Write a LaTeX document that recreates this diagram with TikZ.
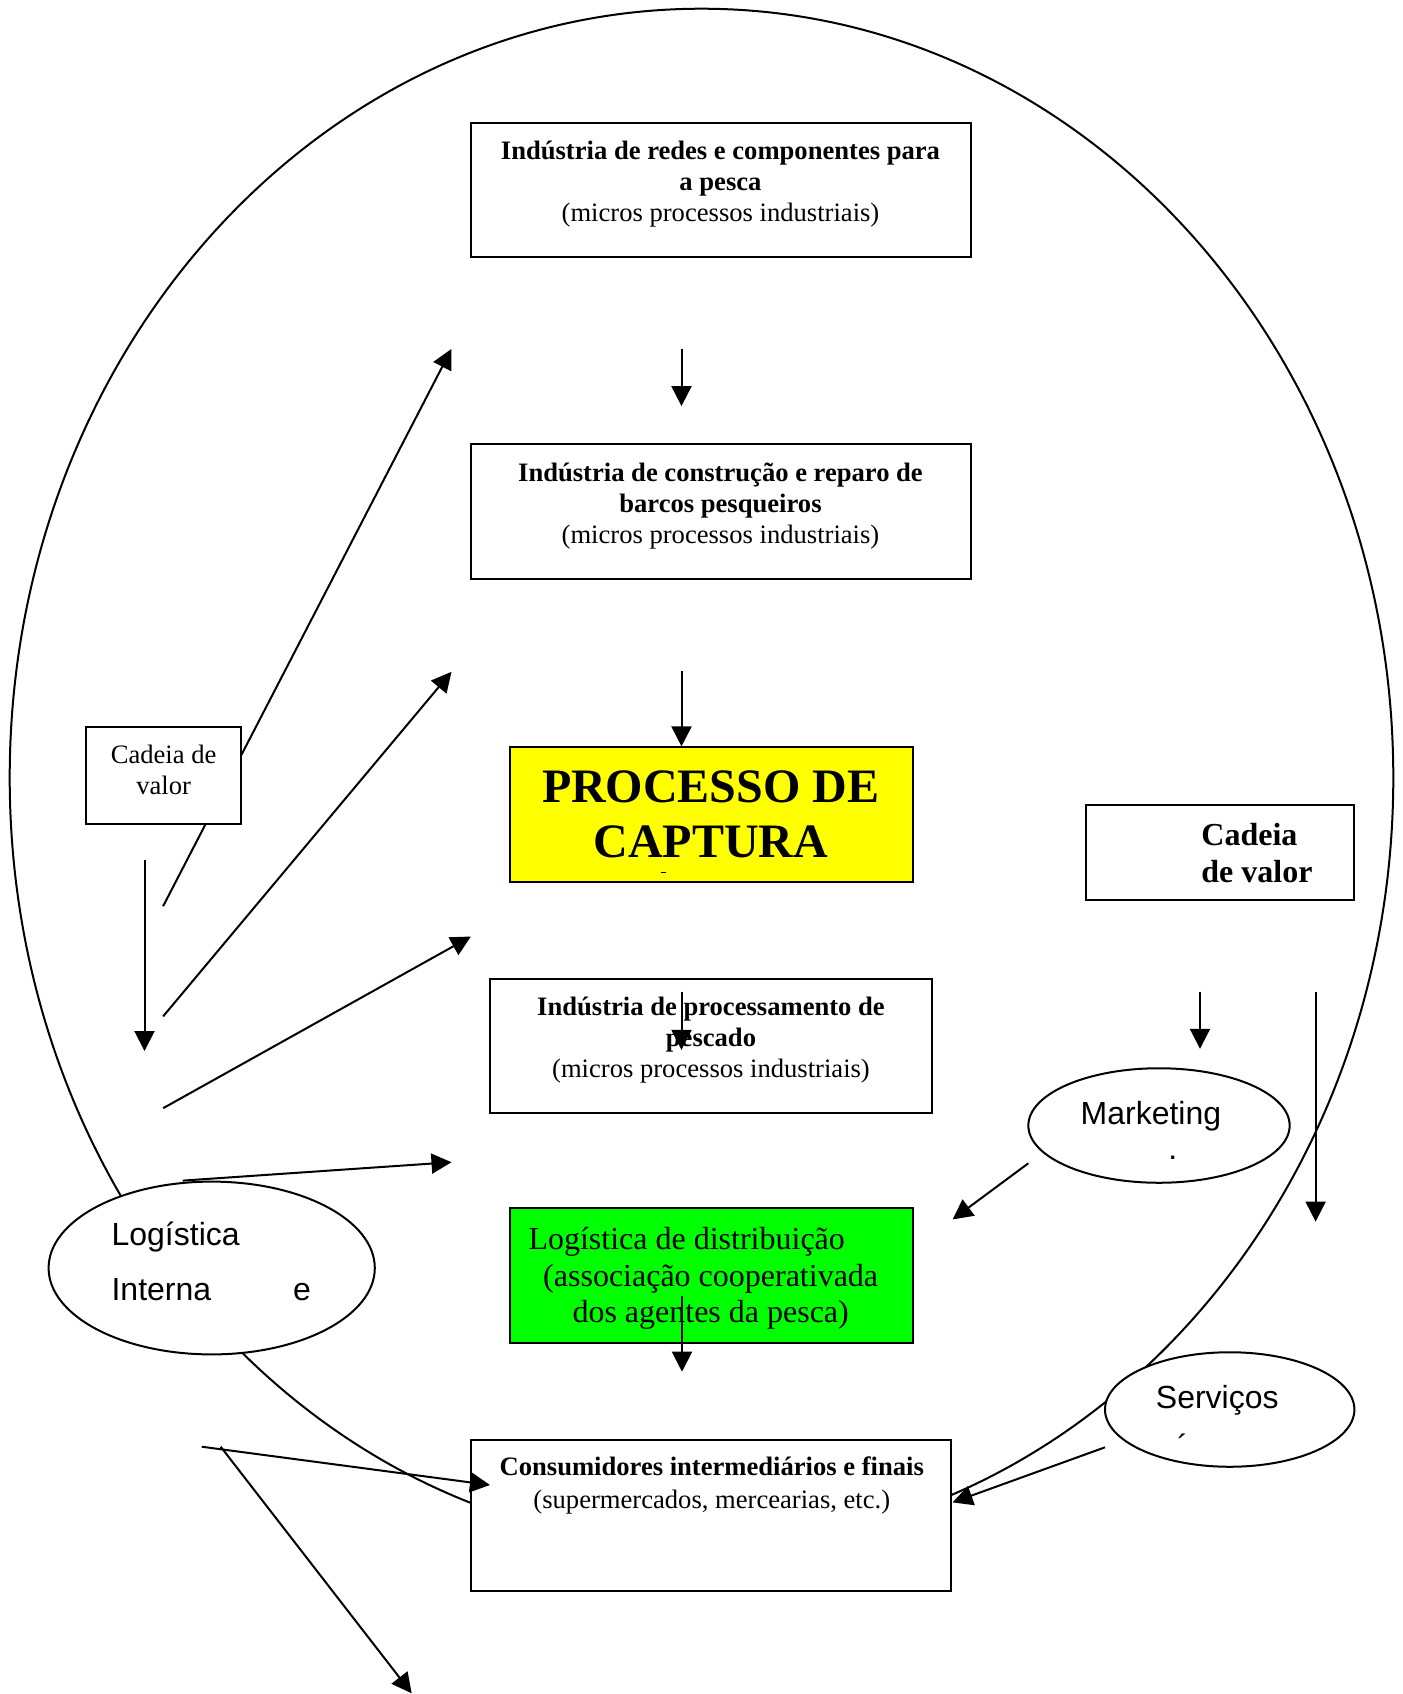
\documentclass[tikz,border=0pt]{standalone}
\usepackage{fontspec}
\setmainfont{Liberation Serif}
\newfontfamily\sansarial{Liberation Sans}
\usetikzlibrary{arrows.meta,shapes.geometric}
\tikzset{
  frame/.style={draw, line width=1pt, fill=white, inner sep=0pt},
  oval/.style={draw, ellipse, line width=1pt, fill=white, inner sep=0pt},
  txt/.style={inner sep=0pt, align=center},
  arr/.style={line width=1pt, -{Triangle[length=10pt,width=10pt]}},
  plain/.style={line width=1pt},
  bodyfont/.style={font=\fontsize{13.3}{15.7}\selectfont},
  sansfont/.style={font=\sansarial\fontsize{16}{27.5}\selectfont},
}
\begin{document}
\begin{tikzpicture}[x=0.5pt,y=-0.5pt]
\useasboundingbox (0,0) rectangle (1403,1694);

% large surrounding oval of the fishing chain
\draw[plain] (701.5,777.7) ellipse [x radius=345.9pt, y radius=384.5pt];

% long line from the left that runs behind the value-chain box
\coordinate (l1s) at (163.1,906.2);
\coordinate (l1e) at (451.5,348.9);
\draw[arr] (l1s) -- (l1e);

% main chain boxes
\node[frame, minimum width=250.05pt, minimum height=67pt] (redes) at (720.95,190.1) {};
\node[txt, bodyfont] (redestxt) at (720.5,184) {\textbf{Indústria de redes e componentes para}\\\textbf{a pesca}\\(micros processos industriais)};

\node[frame, minimum width=250.05pt, minimum height=67.5pt] (barcos) at (720.95,511.4) {};
\node[txt, bodyfont] (barcostxt) at (720.5,506) {\textbf{Indústria de construção e reparo de}\\\textbf{barcos pesqueiros}\\(micros processos industriais)};

\node[frame, fill={rgb,255:red,255;green,255;blue,0}, minimum width=201.45pt, minimum height=67.5pt] (captura) at (711.25,814.9) {};
\node[txt, font=\bfseries\fontsize{24}{27.5}\selectfont] (capturatxt) at (710.7,814.7) {PROCESSO DE\\CAPTURA};
\node[inner sep=0pt] (capturamark) at (663,872) {\rule{2.5pt}{0.5pt}};

\node[frame, minimum width=220.85pt, minimum height=66.95pt] (process) at (711.25,1045.55) {};
\node[txt, bodyfont] (processtxt) at (711,1040) {\textbf{Indústria de processamento de}\\\textbf{pescado}\\(micros processos industriais)};

\node[frame, fill={rgb,255:red,0;green,255;blue,0}, minimum width=201.45pt, minimum height=67.5pt] (distrib) at (711.25,1275.1) {};
\node[txt, font=\fontsize{16}{18.4}\selectfont] (distribtxt) at (710.7,1278.5) {Logística de distribuição\hspace*{24pt}\\(associação cooperativada\\dos agentes da pesca)};

\node[frame, minimum width=239.8pt, minimum height=75.6pt] (consum) at (710.7,1515.4) {};
\node[txt, font=\fontsize{13.3}{16.2}\selectfont] (consumtxt) at (711.8,1485.5) {\textbf{Consumidores intermediários e finais}\\(supermercados, mercearias, etc.)};

% value-chain boxes
\node[frame, minimum width=77.25pt, minimum height=48.6pt] (cadeiaL) at (163.65,775.5) {};
\node[txt, bodyfont] (cadeiaLtxt) at (163.6,770) {Cadeia de\\valor};

\node[frame, minimum width=134.45pt, minimum height=47.5pt] (cadeiaR) at (1219.95,852.2) {};
\node[txt, align=left, anchor=west, font=\bfseries\fontsize{16}{18.4}\selectfont] (cadeiaRtxt) at (1201,853) {Cadeia\\de valor};

% support activities
\node[oval, minimum width=130.65pt, minimum height=57.25pt] (mkt) at (1159,1125.5) {};
\node[txt, sansfont] (mkttxt) at (1150.9,1116) {Marketing};
\node[txt, sansfont] (mktmark) at (1172.7,1158) {.};

\node[oval, minimum width=163.1pt, minimum height=86.4pt] (logint) at (211.7,1268) {};
\node[txt, sansfont, align=left, anchor=west] (loginttxt) at (111.2,1261) {Logística\\Interna\hspace{41pt}e};

\node[oval, minimum width=124.7pt, minimum height=57.25pt] (serv) at (1229.7,1409.5) {};
\node[txt, sansfont] (servtxt) at (1217.3,1400) {Serviços};
\node[txt, sansfont] (servmark) at (1182.7,1446) {´};

% arrows along the central chain
\coordinate (a1s) at (681.5,348.9);
\coordinate (a1e) at (681.5,406.1);
\draw[arr] (a1s) -- (a1e);
\coordinate (a2s) at (681.5,670.7);
\draw[arr] (a2s) -- (a2s |- captura.north);
\coordinate (a3s) at (681.5,991.5);
\coordinate (a3e) at (681.5,1049.9);
\draw[arr] (a3s) -- (a3e);
\coordinate (a4s) at (682,1296);
\coordinate (a4e) at (682,1371.7);
\draw[arr] (a4s) -- (a4e);

% arrows on the left side
\coordinate (l2s) at (163.1,1016.4);
\coordinate (l2e) at (451.5,671.8);
\draw[arr] (l2s) -- (l2e);
\coordinate (l3s) at (163.1,1108.2);
\coordinate (l3e) at (470.9,936.5);
\draw[arr] (l3s) -- (l3e);
\coordinate (l4s) at (144.5,859.8);
\coordinate (l4e) at (144.5,1051);
\draw[arr] (l4s) -- (l4e);
\coordinate (l5e) at (451.5,1162.2);
\draw[arr] (logint.north) ++(-29,0) -- (l5e);
\coordinate (l6s) at (201.7,1446.7);
\coordinate (l6e) at (490,1485);
\draw[arr] (l6s) -- (l6e);
\coordinate (l7s) at (220.7,1446.7);
\coordinate (l7e) at (411.7,1693.3);
\draw[arr] (l7s) -- (l7e);

% arrows on the right side
\coordinate (r1s) at (1200,991.5);
\coordinate (r1e) at (1200,1048.8);
\draw[arr] (r1s) -- (r1e);
\coordinate (r2s) at (1315.6,991.5);
\coordinate (r2e) at (1315.6,1221.6);
\draw[arr] (r2s) -- (r2e);
\coordinate (r3s) at (1028.3,1163.3);
\coordinate (r3e) at (952.6,1219.4);
\draw[arr] (r3s) -- (r3e);
\coordinate (r4s) at (1105,1447.3);
\coordinate (r4e) at (952.6,1502.4);
\draw[arr] (r4s) -- (r4e);
\end{tikzpicture}
\end{document}
